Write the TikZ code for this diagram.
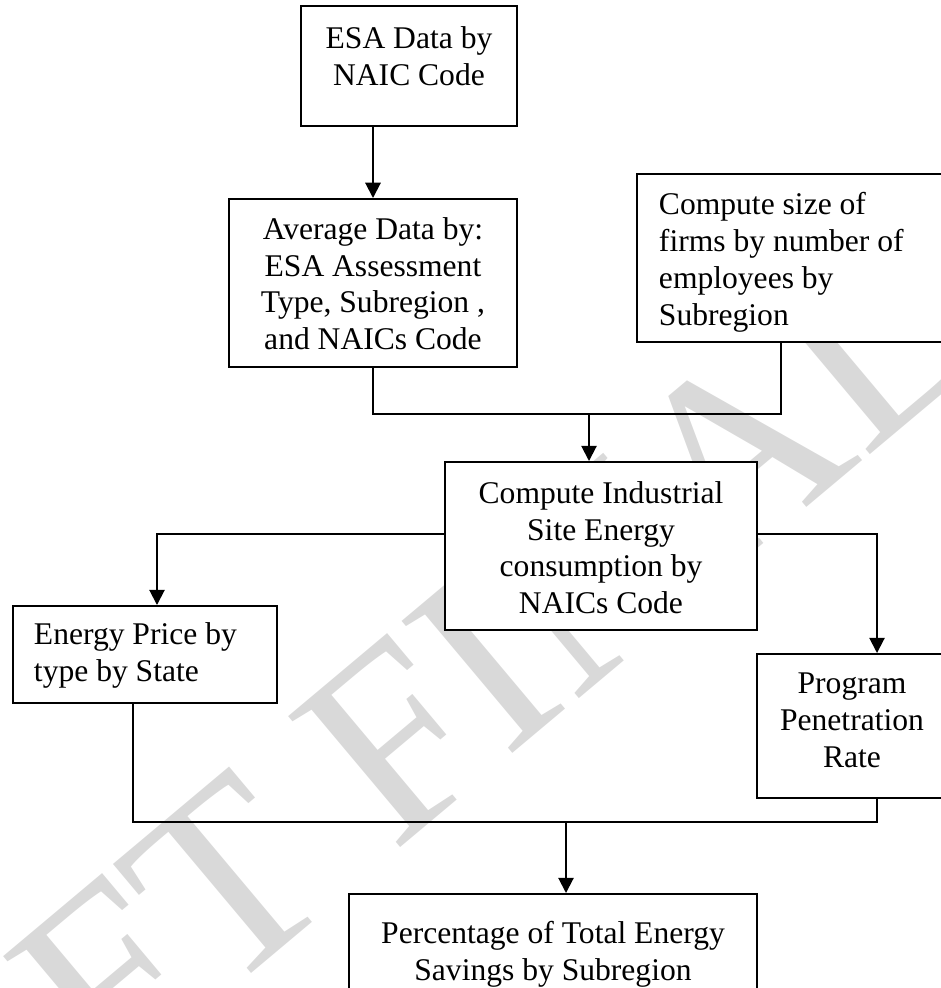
\documentclass[tikz,border=0pt]{standalone}
\usepackage{fontspec}
\setmainfont{Liberation Serif}
\usetikzlibrary{arrows.meta,positioning}

\def\pxlen{0.38pt}

\tikzset{
  box/.style   ={draw, fill=white, inner sep=0pt},
  txt/.style   ={inner sep=0pt, font=\fontsize{12}{14}\selectfont},
  arr/.style   ={-{Triangle[length=5.8pt,width=5.8pt]}},
  wmark/.style ={inner sep=0pt, anchor=base, text=black!15,
                 font=\fontsize{100}{100}\selectfont},
}

\begin{document}
\begin{tikzpicture}[x=\pxlen, y=-\pxlen, line width=0.75pt]
  \useasboundingbox (0,0) rectangle (940,988);

  \node[wmark, rotate=40]  (wm)     at (335,903)   {DRAFT FINAL};

  % boxes
  \node[box, minimum width=216*\pxlen, minimum height=120*\pxlen] (esa)   at (409,66)    {};
  \node[box, minimum width=288*\pxlen, minimum height=168*\pxlen] (avg)   at (373,283)   {};
  \node[box, minimum width=308*\pxlen, minimum height=168*\pxlen] (firm)  at (791,258)   {};
  \node[box, minimum width=312*\pxlen, minimum height=168*\pxlen] (site)  at (601,546)   {};
  \node[box, minimum width=264*\pxlen, minimum height=97*\pxlen]  (price) at (145,654.5) {};
  \node[box, minimum width=190*\pxlen, minimum height=144*\pxlen] (rate)  at (852,726)   {};
  \node[box, minimum width=408*\pxlen, minimum height=101*\pxlen] (save)  at (553,944.5) {};

  % texts
  \node[txt, anchor=north, align=center]      (esaText)   at (409,25.4)  {ESA Data by\\NAIC Code};
  \node[txt, anchor=north, align=center]      (avgText)   at (373,216.4) {Average Data by:\\ESA Assessment\\Type, Subregion ,\\and NAICs Code};
  \node[txt, anchor=north west, align=left]   (firmText)  at (658,191.4) {Compute size of\\firms by number of\\employees by\\Subregion};
  \node[txt, anchor=north, align=center]      (siteText)  at (601,480.4) {Compute Industrial\\Site Energy\\consumption by\\NAICs Code};
  \node[txt, anchor=north west, align=left]   (priceText) at (33,621.4)  {Energy Price by\\type by State};
  \node[txt, anchor=north, align=center]      (rateText)  at (852,672)   {Program\\Penetration\\Rate};
  \node[txt, anchor=north, align=center]      (saveText)  at (553,920.4) {Percentage of Total Energy\\Savings by Subregion};

  % junctions
  \coordinate (upMerge)  at (589,414);
  \coordinate (upRight)  at (781,414);
  \coordinate (toPrice)  at (157,534);
  \coordinate (toRate)   at (877,534);
  \coordinate (lowLeft)  at (133,822);
  \coordinate (lowRight) at (877,822);
  \coordinate (lowMerge) at (566,822);

  % connectors
  \draw[arr] (avg.north |- esa.south) -- (avg.north);
  \draw      (avg.south) |- (upRight) -- (upRight |- firm.south);
  \draw[arr] (upMerge) -- (upMerge |- site.north);
  \draw[arr] (site.west |- toPrice) -- (toPrice) -- (toPrice |- price.north);
  \draw[arr] (site.east |- toRate) -- (toRate) -- (toRate |- rate.north);
  \draw      (lowLeft |- price.south) -- (lowLeft) -- (lowRight) -- (lowRight |- rate.south);
  \draw[arr] (lowMerge) -- (lowMerge |- save.north);
\end{tikzpicture}
\end{document}
